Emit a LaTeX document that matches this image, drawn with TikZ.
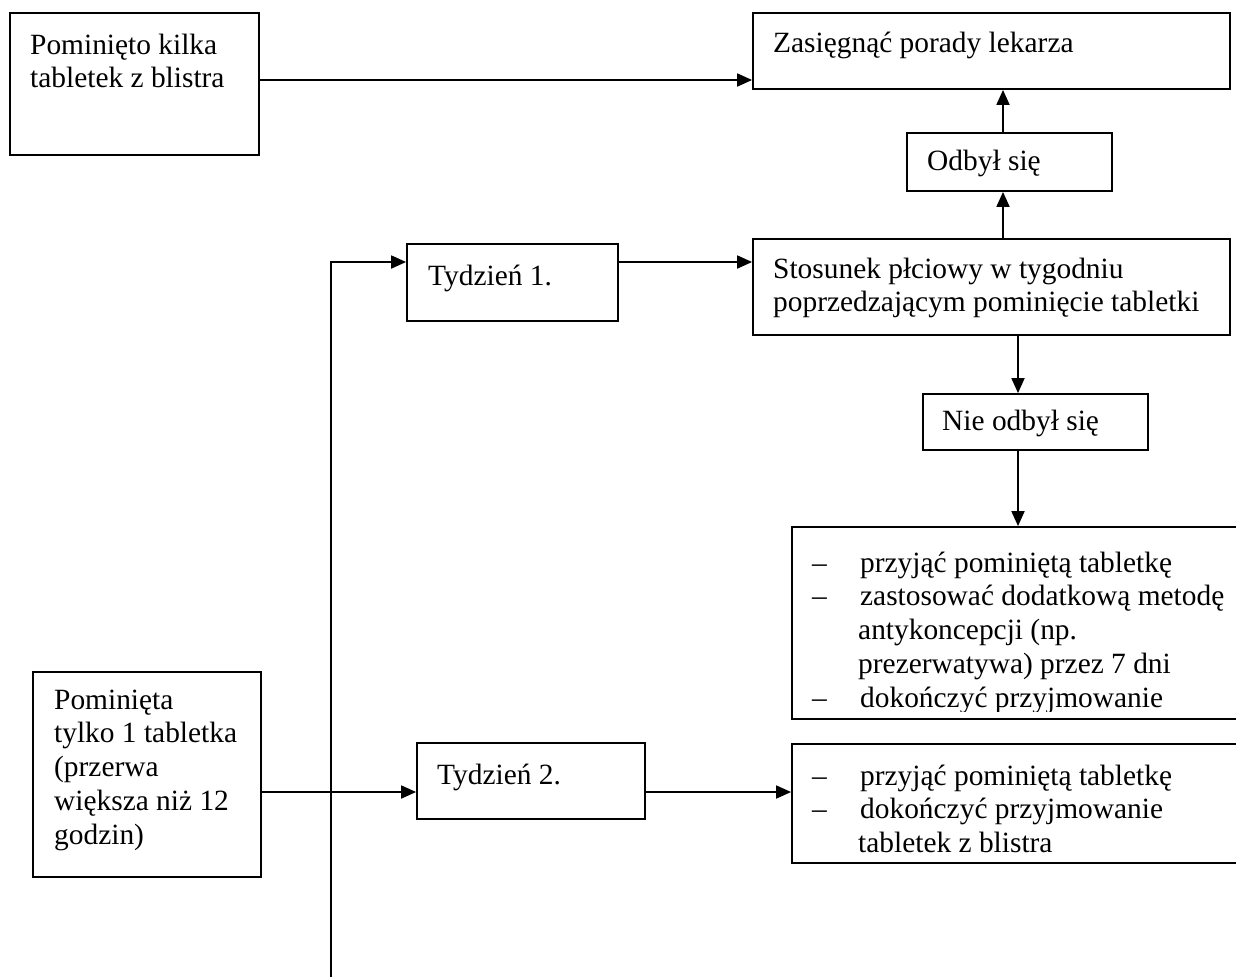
\documentclass[tikz,border=0pt]{standalone}
\usepackage{fontspec}
\setmainfont{Liberation Serif}
\usetikzlibrary{arrows.meta,fit}
\newcommand{\mylines}[1]{\begin{tabular}[t]{@{}l@{}}#1\end{tabular}}
\newcommand{\dashitem}{\makebox[48pt][l]{–}}
\tikzset{
  box/.style={draw, line width=1.8pt, inner sep=0pt},
  arr/.style={line width=1.8pt, -{Triangle[length=15pt,width=13pt]}},
  txt/.style={anchor=base west, inner sep=0pt, font=\fontsize{29.4}{33.8}\selectfont},
}
\begin{document}
\begin{tikzpicture}[x=1pt,y=-1pt]
\useasboundingbox (0,0) rectangle (1236,978);
\clip (0,0) rectangle (1236,978);
\fill[white] (0,0) rectangle (1236,978);
% helper corner coordinates
\coordinate (a1) at (10,13);   \coordinate (a2) at (259,155);
\coordinate (z1) at (753,13);  \coordinate (z2) at (1230,89);
\coordinate (o1) at (907,133); \coordinate (o2) at (1112,191);
\coordinate (s1) at (753,239); \coordinate (s2) at (1230,335);
\coordinate (n1) at (923,394); \coordinate (n2) at (1148,450);
\coordinate (la1) at (792,527); \coordinate (la2) at (1260,719);
\coordinate (ta1) at (407,244); \coordinate (ta2) at (618,321);
\coordinate (p1) at (33,672);  \coordinate (p2) at (261,877);
\coordinate (tb1) at (417,743); \coordinate (tb2) at (645,819);
\coordinate (lb1) at (792,744); \coordinate (lb2) at (1260,863);
% boxes
\node[box, fit=(a1)(a2)] (a) {};
\node[box, fit=(z1)(z2)] (z) {};
\node[box, fit=(o1)(o2)] (o) {};
\node[box, fit=(s1)(s2)] (s) {};
\node[box, fit=(n1)(n2)] (n) {};
\node[box, fit=(la1)(la2)] (l1) {};
\node[box, fit=(ta1)(ta2)] (t1) {};
\node[box, fit=(p1)(p2)] (p) {};
\node[box, fit=(tb1)(tb2)] (t2) {};
\node[box, fit=(lb1)(lb2)] (l2) {};
% texts
\node[txt] (ta) at (30,54) {\mylines{Pominięto kilka\\tabletek z blistra}};
\node[txt] (tz) at (773,52) {Zasięgnąć porady lekarza};
\node[txt] (to) at (927,170) {Odbył się};
\node[txt] (ts) at (773,278) {\mylines{Stosunek płciowy w tygodniu\\poprzedzającym pominięcie tabletki}};
\node[txt] (tn) at (942,430) {Nie odbył się};
\node[txt] (tt1) at (428,285) {Tydzień 1.};
\node[txt] (tt2) at (437,784) {Tydzień 2.};
\node[txt] (tp) at (54,709) {\mylines{Pominięta\\tylko 1 tabletka\\(przerwa\\większa niż 12\\godzin)}};
\begin{scope}
\clip (792,527) rectangle (1236,711);
\node[txt] (tl1) at (812,572) {\mylines{\dashitem przyjąć pominiętą tabletkę\\
\dashitem zastosować dodatkową metodę\\
\hspace{46pt}antykoncepcji (np.\\
\hspace{46pt}prezerwatywa) przez 7 dni\\
\dashitem dokończyć przyjmowanie\\
\hspace{46pt}tabletek z blistra}};
\end{scope}
\node[txt] (tl2) at (812,785) {\mylines{\dashitem przyjąć pominiętą tabletkę\\
\dashitem dokończyć przyjmowanie\\
\hspace{46pt}tabletek z blistra}};
% helper coordinates
\coordinate (y80) at (0,80);
\coordinate (x1003) at (1003,0);
\coordinate (y262) at (0,262);
\coordinate (x1018) at (1018,0);
\coordinate (y792) at (0,792);
\coordinate (bot) at (331,977);
% connectors
\draw[arr] (a.east |- y80) -- (z.west |- y80);
\draw[arr] (o.north -| x1003) -- (z.south -| x1003);
\draw[arr] (s.north -| x1003) -- (o.south -| x1003);
\draw[arr] (t1.east |- y262) -- (s.west |- y262);
\draw[arr] (s.south -| x1018) -- (n.north -| x1018);
\draw[arr] (n.south -| x1018) -- (l1.north -| x1018);
\draw[arr] (p.east |- y792) -- (t2.west |- y792);
\draw[arr] (t2.east |- y792) -- (l2.west |- y792);
\draw[arr] (bot) |- (t1.west |- y262);
\end{tikzpicture}
\end{document}
